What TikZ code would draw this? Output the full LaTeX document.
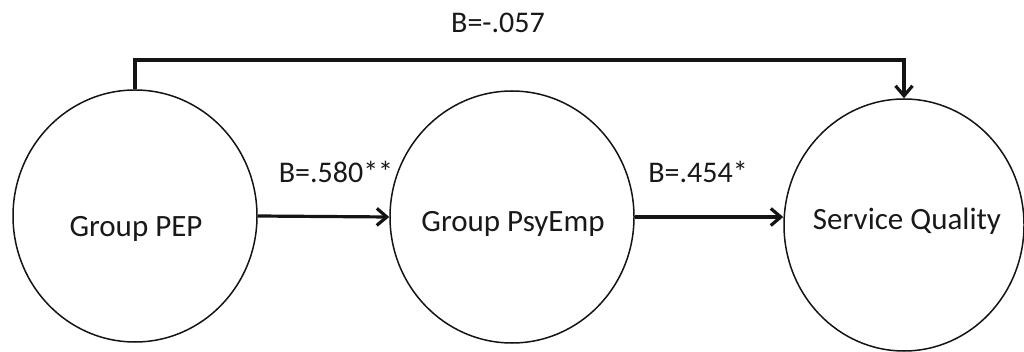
\documentclass[tikz,border=0pt]{standalone}
\usepackage{fontspec}
\setmainfont{Carlito}
\usetikzlibrary{arrows.meta,shapes.geometric}

\colorlet{pathline}{black!92}
\colorlet{labeltext}{black!90}

\begin{document}
\begin{tikzpicture}[x=1pt, y=-1pt,
    construct/.style={ellipse, draw=pathline, line width=1.5pt, minimum width=244pt, minimum height=252pt, inner sep=0pt},
    construct name/.style={anchor=base, font=\fontsize{31}{37}\selectfont, text=labeltext},
    path arrow/.style={line width=3.2pt, draw=pathline, -{Straight Barb[length=10pt, width=17pt]}},
    coef/.style={font=\fontsize{30}{36}\selectfont, text=labeltext}]
    \useasboundingbox (0,0) rectangle (1024,352);
    %--- Konstrukter ---
    \node[construct] (pep) at (135,216){};
    \node[construct] (psy) at (512,217){};
    \node[construct, minimum width=240pt] (sq) at (904,225){};
    \node[construct name] (pepname) at (136,237){Group PEP};
    \node[construct name] (psyname) at (513,232){Group PsyEmp};
    \node[construct name] (sqname) at (907,230){Service Quality};
    %--- Direkte stier ---
    \draw[path arrow] (pep.east) -- (psy.west);
    \draw[path arrow] (psy.east) -- (psy.east -| sq.west);
    \node[coef] (bpep) at (336,172){B=.580**};
    \node[coef] (bpsy) at (698,172){B=.454*};
    %--- Direkte effekt PEP -> kvalitet ---
    \coordinate (topbar) at (520,60);
    \draw[path arrow] (pep.north) |- (topbar) -| (sq.north);
    \node[coef] (bdir) at (498,23){B=-.057};
\end{tikzpicture}
\end{document}
